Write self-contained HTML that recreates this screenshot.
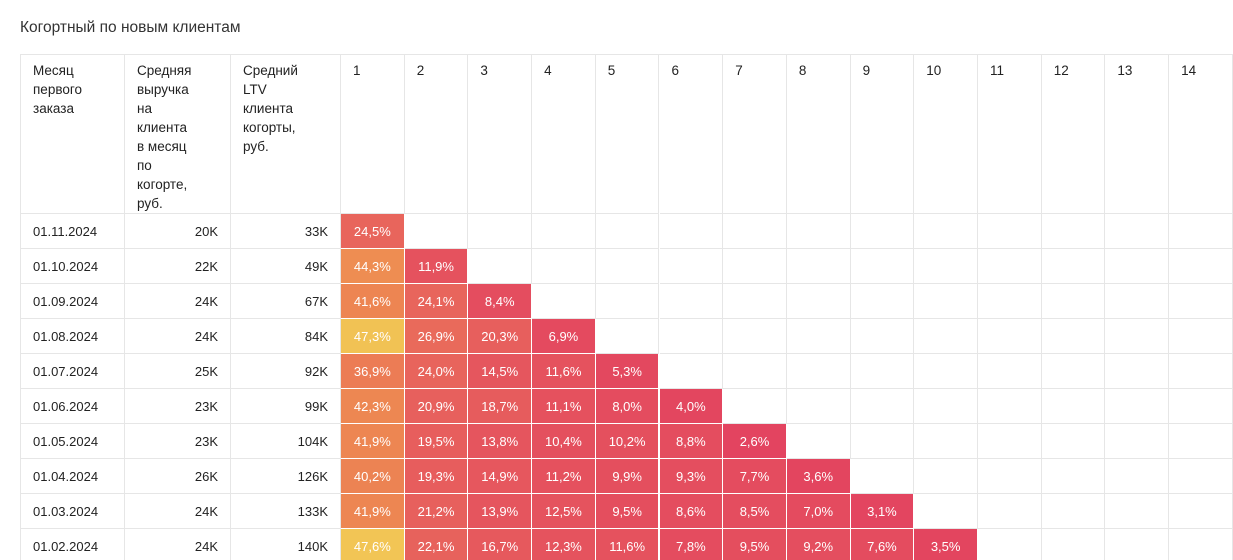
<!DOCTYPE html>
<html><head><meta charset="utf-8">
<style>
html,body{margin:0;background:#fff;width:1233px;height:560px;overflow:hidden}
body{font-family:"Liberation Sans","DejaVu Sans",sans-serif;color:#222;position:relative}
#title{position:absolute;left:20px;top:19px;font-size:15.5px;color:#333}
#t{position:absolute;left:0;top:0;width:1233px;height:560px;overflow:hidden}
.c{position:absolute;box-sizing:border-box;font-size:13px}
.g{border-right:1px solid #e6e6e6;border-bottom:1px solid #e6e6e6}
.h{padding:7px 0 0 12px;line-height:19px;font-size:13.5px}
.b{line-height:35px}
</style></head><body>
<div id="title">Когортный по новым клиентам</div>
<div id="t"></div>
<script>
const dates=["01.11.2024","01.10.2024","01.09.2024","01.08.2024","01.07.2024","01.06.2024","01.05.2024","01.04.2024","01.03.2024","01.02.2024"];
const avgRevenue=["20K","22K","24K","24K","25K","23K","23K","26K","24K","24K"];
const avgLtv=["33K","49K","67K","84K","92K","99K","104K","126K","133K","140K"];
const retention=[
[24.5],
[44.3,11.9],
[41.6,24.1,8.4],
[47.3,26.9,20.3,6.9],
[36.9,24.0,14.5,11.6,5.3],
[42.3,20.9,18.7,11.1,8.0,4.0],
[41.9,19.5,13.8,10.4,10.2,8.8,2.6],
[40.2,19.3,14.9,11.2,9.9,9.3,7.7,3.6],
[41.9,21.2,13.9,12.5,9.5,8.6,8.5,7.0,3.1],
[47.6,22.1,16.7,12.3,11.6,7.8,9.5,9.2,7.6,3.5]];
const periods=[1,2,3,4,5,6,7,8,9,10,11,12,13,14];
const headers=["Месяц<br>первого<br>заказа","Средняя<br>выручка<br>на<br>клиента<br>в месяц<br>по<br>когорте,<br>руб.","Средний<br>LTV<br>клиента<br>когорты,<br>руб."];
const t=document.getElementById('t');
const X0=21,Y0=54,HH=160,RH=35,fixedW=[104,106,110],PW=63.7;
function colX(i){if(i<3){let x=X0;for(let k=0;k<i;k++)x+=fixedW[k];return x;}return X0+320+(i-3)*PW;}
function colW(i){const w=i<3?fixedW[i]:PW;return Math.min(w,1233-colX(i));}
function lerp(a,b,t){return a.map((v,i)=>Math.round(v+(b[i]-v)*t));}
const stops=[[0,[226,64,96]],[25,[232,102,92]],[42,[237,134,82]],[44.5,[238,142,82]],[47,[241,192,84]],[48,[242,200,85]]];
function color(v){for(let i=0;i<stops.length-1;i++){const[a,ca]=stops[i],[b,cb]=stops[i+1];if(v<=b){const c=lerp(ca,cb,(v-a)/(b-a));return `rgb(${c})`;}}return `rgb(${stops[stops.length-1][1]})`;}
function cell(x,y,w,h,cls,html){const d=document.createElement('div');d.className='c '+cls;d.style.left=x+'px';d.style.top=y+'px';d.style.width=w+'px';d.style.height=h+'px';d.innerHTML=html;t.appendChild(d);return d;}
const ob=cell(X0-1,Y0,1233-X0+1,560-Y0,'','');ob.style.borderLeft='1px solid #e6e6e6';ob.style.borderTop='1px solid #e6e6e6';


const ncols=3+periods.length;
for(let i=0;i<ncols;i++){
 const lbl=i<3?headers[i]:periods[i-3];
 const d=cell(colX(i),Y0,colW(i),HH,'g h',lbl);
 
 
}
dates.forEach((dt,r)=>{
 const y=Y0+HH+r*RH;
 let d=cell(colX(0),y,colW(0),RH,'g b',dt);d.style.paddingLeft='12px';
 
 
 d=cell(colX(1),y,colW(1),RH,'g b',avgRevenue[r]);d.style.textAlign='right';d.style.paddingRight='12px';
 
 
 d=cell(colX(2),y,colW(2),RH,'g b',avgLtv[r]);d.style.textAlign='right';d.style.paddingRight='12px';
 
 
 for(let p=0;p<periods.length;p++){
  const v=retention[r][p];
  const i=3+p;
  if(v!==undefined){
   const e=cell(colX(i),y,colW(i),RH,'b',v.toFixed(1).replace('.',',')+'%');
   e.style.background=color(v);e.style.color='#fff';e.style.textAlign='center';
   e.style.borderRight='1px solid #fff';e.style.borderBottom='1px solid #fff';
   
   
  }else{
   const e=cell(colX(i),y,colW(i),RH,'g b','');
   
   
  }
 }
});
</script>
</body></html>
